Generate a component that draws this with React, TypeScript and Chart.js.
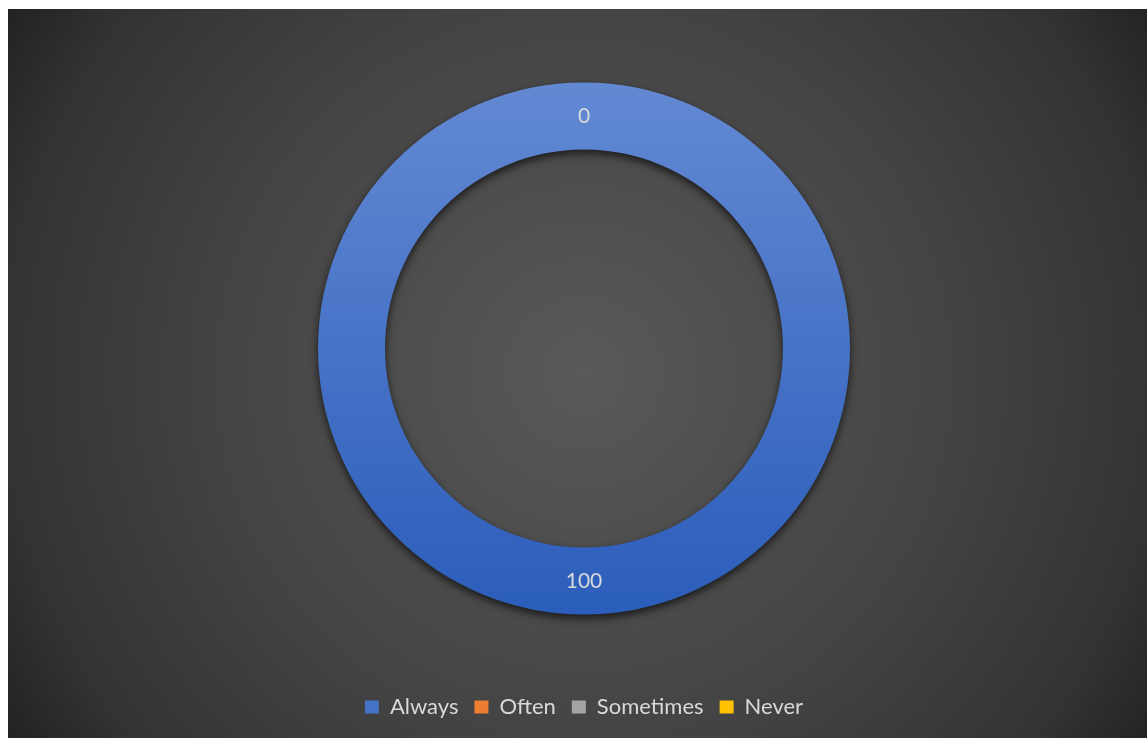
import { useEffect, useRef } from "react";
import { Chart, registerables } from "chart.js";

Chart.register(...registerables);

const categories = ["Always", "Often", "Sometimes", "Never"];
const values = [100, 0, 0, 0];
const legendColors = ["#4472C4", "#ED7D31", "#A5A5A5", "#FFC000"];
const ringTop = "#6389D3";
const ringBottom = "#2B5DBB";

const OUTER = 266;
const CUTOUT = "74.8%";
const FONT = "Lato, 'Noto Sans', sans-serif";
const TEXT = "#D9D9D9";

export default function App() {
  const ref = useRef<HTMLCanvasElement>(null);

  useEffect(() => {
    const canvas = ref.current;
    if (!canvas) return;

    const shadowPlugin = {
      id: "ringShadow",
      beforeDatasetsDraw(chart: any) {
        const c = chart.ctx;
        c.save();
        c.shadowColor = "rgba(0,0,0,0.65)";
        c.shadowBlur = 9;
        c.shadowOffsetX = 0;
        c.shadowOffsetY = 4;
      },
      afterDatasetsDraw(chart: any) {
        chart.ctx.restore();
      },
    };

    const labelPlugin = {
      id: "arcLabels",
      afterDatasetsDraw(chart: any) {
        const c = chart.ctx;
        const meta = chart.getDatasetMeta(0);
        const seen = new Set<string>();
        c.save();
        c.font = `21px ${FONT}`;
        c.fillStyle = TEXT;
        c.textAlign = "center";
        c.textBaseline = "middle";
        meta.data.forEach((arc: any, i: number) => {
          const p = arc.getProps(["x", "y", "startAngle", "endAngle", "innerRadius", "outerRadius"], true);
          const a = (p.startAngle + p.endAngle) / 2;
          const r = (p.innerRadius + p.outerRadius) / 2;
          const x = p.x + Math.cos(a) * r;
          const y = p.y + Math.sin(a) * r;
          const txt = String(values[i]);
          const key = `${Math.round(x)},${Math.round(y)},${txt}`;
          if (seen.has(key)) return;
          seen.add(key);
          c.fillText(txt, x, y);
        });
        c.restore();
      },
    };

    const chart = new Chart(canvas, {
      type: "doughnut",
      data: {
        labels: categories,
        datasets: [
          {
            data: values,
            borderWidth: 0,
            backgroundColor: (ctx: any) => {
              const i = ctx.dataIndex;
              if (i !== 0) return legendColors[i];
              const ch = ctx.chart;
              const area = ch.chartArea;
              if (!area) return legendColors[0];
              const cy = (area.top + area.bottom) / 2;
              const g = ch.ctx.createLinearGradient(0, cy - OUTER, 0, cy + OUTER);
              g.addColorStop(0, ringTop);
              g.addColorStop(1, ringBottom);
              return g;
            },
          },
        ],
      },
      options: {
        animation: false,
        responsive: true,
        maintainAspectRatio: false,
        radius: OUTER,
        cutout: CUTOUT,
        layout: { padding: { top: 8, bottom: 10, left: 0, right: 0 } },
        plugins: {
          tooltip: { enabled: false },
          legend: {
            position: "bottom",
            labels: {
              boxWidth: 14,
              boxHeight: 13,
              padding: 16,
              color: TEXT,
              font: { family: FONT, size: 22 },
              generateLabels: () =>
                categories.map((t, i) => ({
                  text: t,
                  fillStyle: legendColors[i],
                  strokeStyle: legendColors[i],
                  lineWidth: 0,
                  hidden: false,
                  index: i,
                  fontColor: TEXT,
                })),
            },
          },
        },
      } as any,
      plugins: [shadowPlugin, labelPlugin],
    });

    return () => chart.destroy();
  }, []);

  return (
    <div
      style={{
        position: "fixed",
        left: 8,
        top: 9,
        width: 1152,
        height: 729,
        background:
          "radial-gradient(circle farthest-corner at 50% 50%, #595959 0%, #444444 53%, #333333 85%, #222222 100%)",
      }}
    >
      <canvas ref={ref} />
    </div>
  );
}
